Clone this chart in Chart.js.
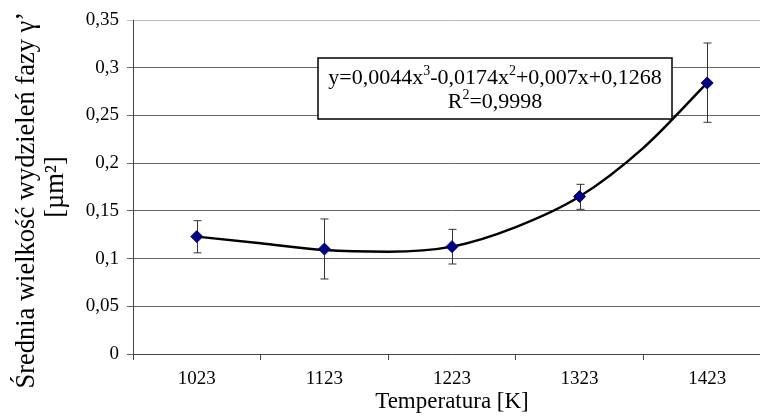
<!DOCTYPE html>
<html>
<head>
<meta charset="utf-8">
<script src="https://cdn.jsdelivr.net/npm/chart.js@4.4.0/dist/chart.umd.min.js"></script>
<style>
  html, body { margin: 0; padding: 0; background: #fff; overflow: hidden; }
  #wrap { width: 780px; height: 416px; }
</style>
</head>
<body>
<div id="wrap"><canvas id="chart"></canvas></div>
<script>
// Temperatures (category labels) and their positions on the x axis
const temps = ['1023', '1123', '1223', '1323', '1423'];
const positions = [1, 2, 3, 4, 5];

// Mean size of gamma' precipitates [um^2] with error bar ends
const meanSize = [0.123, 0.110, 0.1125, 0.165, 0.284];
const errLow = [0.106, 0.0786, 0.0943, 0.1516, 0.2428];
const errHigh = [0.1397, 0.1415, 0.1306, 0.1778, 0.3259];

// Polynomial trend line
const trendX = [1, 1.5, 2, 2.5, 3, 3.5, 4, 4.5, 5];
const trendY = [0.123, 0.116, 0.109, 0.1072, 0.1125, 0.133, 0.165, 0.216, 0.284];

const yTicks = ['0', '0,05', '0,1', '0,15', '0,2', '0,25', '0,3', '0,35'];

// equation text, pieces flagged 1 are superscripts
const eqLine1 = [['y=0,0044x', 0], ['3', 1], ['-0,0174x', 0], ['2', 1], ['+0,007x+0,1268', 0]];
const eqLine2 = [['R', 0], ['2', 1], ['=0,9998', 0]];

const serif = '"Liberation Serif", "Times New Roman", serif';

const errorBars = {
    id: 'errorBars',
    beforeDatasetsDraw(chart) {
        const { ctx, scales: { x, y } } = chart;
        ctx.save();
        ctx.strokeStyle = '#333';
        ctx.lineWidth = 1;
        positions.forEach((p, i) => {
            const px = Math.round(x.getPixelForValue(p)) + 0.5;
            const top = y.getPixelForValue(errHigh[i]);
            const bot = y.getPixelForValue(errLow[i]);
            ctx.beginPath();
            ctx.moveTo(px, top); ctx.lineTo(px, bot);
            ctx.moveTo(px - 4, top); ctx.lineTo(px + 4, top);
            ctx.moveTo(px - 4, bot); ctx.lineTo(px + 4, bot);
            ctx.stroke();
        });
        ctx.restore();
    }
};

function drawRich(ctx, parts, cx, cy) {
    const big = '22px ' + serif, small = '14px ' + serif;
    let total = 0;
    parts.forEach(([t, sup]) => {
        ctx.font = sup ? small : big;
        total += ctx.measureText(t).width;
    });
    let x = cx - total / 2;
    parts.forEach(([t, sup]) => {
        ctx.font = sup ? small : big;
        ctx.fillText(t, x, sup ? cy - 9 : cy);
        x += ctx.measureText(t).width;
    });
}

const equationBox = {
    id: 'equationBox',
    afterDatasetsDraw(chart) {
        const { ctx, chartArea } = chart;
        const left = chartArea.left + 185, top = chartArea.top + 38;
        const w = 354, h = 61;
        ctx.save();
        ctx.fillStyle = '#fff';
        ctx.fillRect(left, top, w, h);
        ctx.strokeStyle = '#000';
        ctx.lineWidth = 1.5;
        ctx.strokeRect(left, top, w, h);
        ctx.fillStyle = '#000';
        ctx.textAlign = 'left';
        ctx.textBaseline = 'alphabetic';
        drawRich(ctx, eqLine1, left + w / 2, top + 26);
        drawRich(ctx, eqLine2, left + w / 2, top + 50);
        ctx.restore();
    }
};

new Chart(document.getElementById('chart'), {
    type: 'line',
    data: {
        datasets: [{
            label: 'Średnia wielkość',
            data: positions.map((p, i) => ({ x: p, y: meanSize[i] })),
            showLine: false,
            pointStyle: 'rectRot',
            pointRadius: 6,
            pointBackgroundColor: '#000080',
            pointBorderColor: '#000080',
            pointBorderWidth: 1
        }, {
            label: 'Trend',
            data: trendX.map((t, i) => ({ x: t, y: trendY[i] })),
            borderColor: '#000',
            borderWidth: 2.5,
            pointRadius: 0,
            tension: 0.4,
            cubicInterpolationMode: 'monotone',
            fill: false
        }]
    },
    options: {
        responsive: true,
        maintainAspectRatio: false,
        animation: false,
        layout: { padding: { top: 20, right: 9, left: 0, bottom: 0 } },
        plugins: {
            legend: { display: false },
            tooltip: { enabled: false }
        },
        scales: {
            x: {
                type: 'linear',
                min: 0.5,
                max: 5.5,
                afterFit(scale) { scale.height = 62; },
                ticks: {
                    stepSize: 0.5,
                    autoSkip: false,
                    maxRotation: 0,
                    padding: 8,
                    color: '#000',
                    font: { family: serif, size: 19 },
                    callback: v => Number.isInteger(v) ? temps[v - 1] : ''
                },
                grid: {
                    drawOnChartArea: false,
                    tickLength: 6,
                    color: c => (c.tick && !Number.isInteger(c.tick.value)) ? '#444' : 'rgba(0,0,0,0)'
                },
                border: { display: true, color: '#444' },
                title: {
                    display: true,
                    text: 'Temperatura [K]',
                    color: '#000',
                    font: { family: serif, size: 23 },
                    padding: { top: 0, bottom: 0 }
                }
            },
            y: {
                min: 0,
                max: 0.35,
                afterFit(scale) { scale.width = 133; },
                ticks: {
                    stepSize: 0.05,
                    padding: 8,
                    color: '#000',
                    font: { family: serif, size: 19 },
                    callback: v => yTicks[Math.round(v / 0.05)]
                },
                grid: {
                    tickLength: 6,
                    color: c => (c.tick && Math.abs(c.tick.value - 0.35) < 1e-6) ? '#bbb' : '#666'
                },
                border: { display: true, color: '#444' },
                title: {
                    display: true,
                    // trailing spaces nudge the first line down like the original
                    text: ['Średnia wielkość wydzieleń fazy γ’\u00a0\u00a0\u00a0\u00a0', '[µm²]'],
                    color: '#000',
                    font: { family: serif, size: 26.5, lineHeight: 1.08 },
                    padding: { top: 13, bottom: 0 }
                }
            }
        }
    },
    plugins: [errorBars, equationBox]
});
</script>
</body>
</html>
